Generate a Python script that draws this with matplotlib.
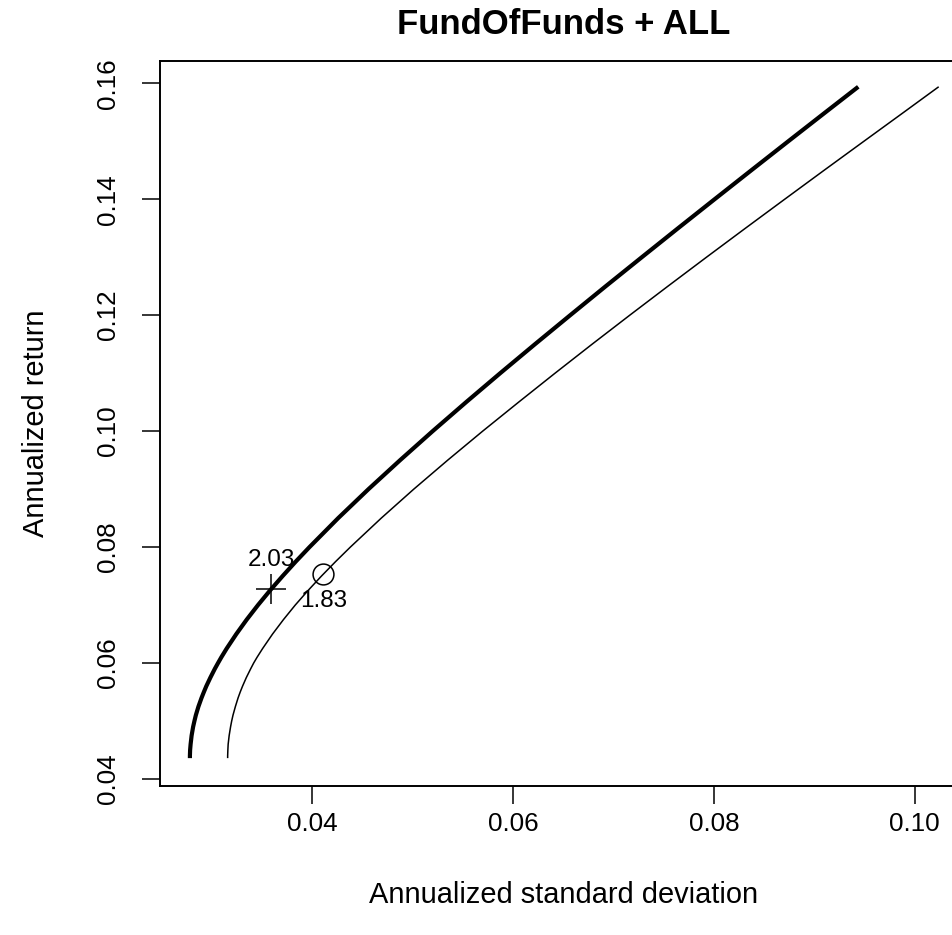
import matplotlib
matplotlib.use("Agg")
import matplotlib.pyplot as plt

# Frontier 1 (thick): annualized return vs annualized std dev
ret_thick = [0.0436, 0.0440, 0.0450, 0.0460, 0.0475, 0.0490, 0.0500, 0.0510, 0.0525,
             0.0540, 0.0550, 0.0560, 0.0575, 0.0590, 0.0600, 0.0610, 0.0625, 0.0650,
             0.0675, 0.0700, 0.0725, 0.0750, 0.0775, 0.0800, 0.0850, 0.0900, 0.0950,
             0.1000, 0.1050, 0.1100, 0.1150, 0.1200, 0.1250, 0.1300, 0.1350, 0.1400,
             0.1450, 0.1500, 0.1550, 0.1594]
sd_thick = [0.02780, 0.02780, 0.02782, 0.02787, 0.02797, 0.02812, 0.02825, 0.02839, 0.02865,
            0.02896, 0.02919, 0.02943, 0.02984, 0.03028, 0.03060, 0.03093, 0.03146, 0.03242,
            0.03346, 0.03458, 0.03577, 0.03703, 0.03834, 0.03971, 0.04257, 0.04559, 0.04874,
            0.05198, 0.05531, 0.05871, 0.06217, 0.06568, 0.06922, 0.07281, 0.07642, 0.08006,
            0.08372, 0.08740, 0.09110, 0.09437]

# Frontier 2 (thin)
ret_thin = [0.0436, 0.0440, 0.0450, 0.0460, 0.0475, 0.0490, 0.0500, 0.0510, 0.0525,
            0.0540, 0.0550, 0.0560, 0.0575, 0.0590, 0.0600, 0.0610, 0.0625, 0.0650,
            0.0675, 0.0700, 0.0725, 0.0750, 0.0775, 0.0800, 0.0850, 0.0900, 0.0950,
            0.1000, 0.1050, 0.1100, 0.1150, 0.1200, 0.1250, 0.1300, 0.1350, 0.1400,
            0.1450, 0.1500, 0.1550, 0.1594]
sd_thin = [0.03156, 0.03156, 0.03158, 0.03161, 0.03171, 0.03185, 0.03196, 0.03209, 0.03233,
           0.03260, 0.03281, 0.03304, 0.03342, 0.03385, 0.03415, 0.03449, 0.03504, 0.03603,
           0.03712, 0.03829, 0.03956, 0.04090, 0.04231, 0.04378, 0.04686, 0.05010, 0.05348,
           0.05696, 0.06054, 0.06417, 0.06786, 0.07161, 0.07541, 0.07925, 0.08313, 0.08704,
           0.09097, 0.09493, 0.09890, 0.10238]

# Marked portfolios
plus_pt = (0.0359, 0.0728)
plus_label = "2.03"
circ_pt = (0.0411, 0.0754)
circ_label = "1.83"

xticks = [0.04, 0.06, 0.08, 0.10]
xtick_labels = ["0.04", "0.06", "0.08", "0.10"]
yticks = [0.04, 0.06, 0.08, 0.10, 0.12, 0.14, 0.16]
ytick_labels = ["0.04", "0.06", "0.08", "0.10", "0.12", "0.14", "0.16"]

plt.rcParams['font.family'] = ['Liberation Sans', 'DejaVu Sans']

W, H = 952, 935
fig = plt.figure(figsize=(W / 100, H / 100), dpi=100)
ax = fig.add_axes([160 / W, (H - 785.7) / H, 808 / W, (785.7 - 61) / H])

ax.plot(sd_thick, ret_thick, color='black', lw=3.0, solid_capstyle='butt', solid_joinstyle='round')
ax.plot(sd_thin, ret_thin, color='black', lw=1.1, solid_capstyle='butt', solid_joinstyle='round')

ax.plot([plus_pt[0]], [plus_pt[1]], marker='+', ms=22, mew=1.1, color='black', ls='none')
ax.plot([circ_pt[0]], [circ_pt[1]], marker='o', ms=15, mew=1.1, mfc='none', mec='black', ls='none')

ax.annotate(plus_label, xy=plus_pt, xytext=(0, 29), textcoords='offset pixels',
            ha='center', va='center', fontsize=17.5)
ax.annotate(circ_label, xy=circ_pt, xytext=(0, -27), textcoords='offset pixels',
            ha='center', va='center', fontsize=17.5)

ax.set_xlim(0.024821, 0.1053)
ax.set_ylim(0.038844, 0.163847)

ax.set_xticks(xticks)
ax.set_xticklabels(xtick_labels)
ax.set_yticks(yticks)
ax.set_yticklabels(ytick_labels, rotation=90, va='center')
ax.tick_params(axis='both', length=13, width=1.1, labelsize=18.7, color='black')
ax.tick_params(axis='x', pad=6)
ax.tick_params(axis='y', pad=16)

for sp in ax.spines.values():
    sp.set_linewidth(1.4)

fig.text(0.5 * (160 + 968) / W, 1 - 895 / H, "Annualized standard deviation",
         ha='center', va='center', fontsize=20.9)
fig.text(36 / W, 1 - ((61 + 785.7) / 2) / H, "Annualized return",
         ha='center', va='center', rotation=90, fontsize=20.9)
fig.text(0.5 * (160 + 968) / W, 1 - 25 / H, "FundOfFunds + ALL",
         ha='center', va='center', fontsize=25, fontweight='bold')

fig.savefig("out.png", dpi=100)
